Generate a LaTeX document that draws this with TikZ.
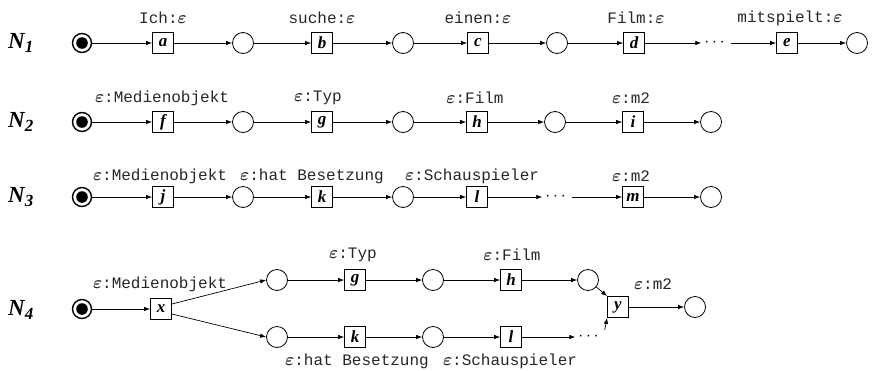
\documentclass[tikz,border=0pt]{standalone}
\usepackage{amsmath}
\usepackage{fontspec}
\setmainfont{Liberation Serif}
\setmonofont{Liberation Mono}
\usetikzlibrary{arrows.meta}
\newcommand{\eps}{\ensuremath{\boldsymbol{\varepsilon}}}
\tikzset{
  place/.style={circle,draw,line width=0.8pt,minimum size=21pt,inner sep=0pt},
  trans/.style={rectangle,draw,line width=0.8pt,minimum size=21pt,inner sep=0pt,
    font=\fontsize{17}{17}\selectfont\bfseries\itshape},
  startp/.style={circle,draw,line width=1.4pt,minimum size=19pt,inner sep=0pt,
    path picture={\fill[black] (path picture bounding box.center) circle (5.8pt);}},
  lbl/.style={font=\fontsize{16}{16}\selectfont\ttfamily,inner sep=0pt,text=black!85},
  netname/.style={font=\fontsize{23}{23}\selectfont\bfseries\itshape,anchor=west,inner sep=0pt},
  dotsn/.style={font=\fontsize{16}{16}\selectfont,inner sep=3pt},
  arr/.style={-{Latex[length=6pt,width=4.5pt]},line width=0.7pt},
  ln/.style={line width=0.7pt}
}
\begin{document}
\begin{tikzpicture}[x=1pt,y=-1pt]
\useasboundingbox (0,0) rectangle (877,370);
% ---------- N1 ----------
\node[netname] (n1) at (8,43) {N\textsubscript{\fontsize{17}{17}\selectfont 1}};
\node[startp] (s1) at (82,43) {};
\node[trans] (a) at (163,43) {a};
\node[place] (p11) at (243,43) {};
\node[trans] (b) at (322,43) {b};
\node[place] (p12) at (403,43) {};
\node[trans] (c) at (478,43) {c};
\node[place] (p13) at (557,43) {};
\node[trans] (d) at (634,43) {d};
\node[dotsn] (dots1) at (716,43) {$\cdots$};
\node[trans] (e) at (787,43) {e};
\node[place] (p14) at (857,43) {};
\node[lbl] (la) at (163,18) {Ich:\eps};
\node[lbl] (lb) at (322,18) {suche:\eps};
\node[lbl] (lc) at (478,18) {einen:\eps};
\node[lbl] (ld) at (636,18) {Film:\eps};
\node[lbl] (le) at (790,18) {mitspielt:\eps};
\draw[arr] (s1) -- (a);
\draw[arr] (a) -- (p11);
\draw[arr] (p11) -- (b);
\draw[arr] (b) -- (p12);
\draw[arr] (p12) -- (c);
\draw[arr] (c) -- (p13);
\draw[arr] (p13) -- (d);
\draw[arr] (d) -- (dots1);
\draw[arr] (dots1) -- (e);
\draw[arr] (e) -- (p14);
% ---------- N2 ----------
\node[netname] (n2) at (8,122) {N\textsubscript{\fontsize{17}{17}\selectfont 2}};
\node[startp] (s2) at (82,122) {};
\node[trans] (f) at (163,122) {f};
\node[place] (p21) at (243,122) {};
\node[trans] (g) at (322,122) {g};
\node[place] (p22) at (403,122) {};
\node[trans] (h) at (477,122) {h};
\node[place] (p23) at (555,122) {};
\node[trans] (i) at (633,122) {i};
\node[place] (p24) at (711,122) {};
\node[lbl] (lf) at (162,98) {\eps:Medienobjekt};
\node[lbl] (lg) at (318,98) {\eps:Typ};
\node[lbl] (lh) at (475,98) {\eps:Film};
\node[lbl] (li) at (631,98) {\eps:m2};
\draw[arr] (s2) -- (f);
\draw[arr] (f) -- (p21);
\draw[arr] (p21) -- (g);
\draw[arr] (g) -- (p22);
\draw[arr] (p22) -- (h);
\draw[arr] (h) -- (p23);
\draw[arr] (p23) -- (i);
\draw[arr] (i) -- (p24);
% ---------- N3 ----------
\node[netname] (n3) at (8,197) {N\textsubscript{\fontsize{17}{17}\selectfont 3}};
\node[startp] (s3) at (82,197) {};
\node[trans] (j) at (163,197) {j};
\node[place] (p31) at (243,197) {};
\node[trans] (k) at (322,197) {k};
\node[place] (p32) at (403,197) {};
\node[trans] (l) at (477,197) {l};
\node[dotsn] (dots3) at (557,197) {$\cdots$};
\node[trans] (m) at (633,197) {m};
\node[place] (p34) at (711,197) {};
\node[lbl] (lj) at (160,176) {\eps:Medienobjekt};
\node[lbl] (lk) at (312,176) {\eps:hat Besetzung};
\node[lbl] (ll) at (472,176) {\eps:Schauspieler};
\node[lbl] (lm) at (631,176) {\eps:m2};
\draw[arr] (s3) -- (j);
\draw[arr] (j) -- (p31);
\draw[arr] (p31) -- (k);
\draw[arr] (k) -- (p32);
\draw[arr] (p32) -- (l);
\draw[arr] (l) -- (dots3);
\draw[arr] (dots3) -- (m);
\draw[arr] (m) -- (p34);
% ---------- N4 ----------
\node[netname] (n4) at (8,310) {N\textsubscript{\fontsize{17}{17}\selectfont 4}};
\node[startp] (s4) at (82,309) {};
\node[trans] (x) at (161,309) {x};
\node[place] (pu1) at (277,280) {};
\node[trans] (g4) at (355,280) {g};
\node[place] (pu2) at (433,280) {};
\node[trans] (h4) at (511,280) {h};
\node[place] (pu3) at (588,280) {};
\node[place] (pl1) at (277,337) {};
\node[trans] (k4) at (355,337) {k};
\node[place] (pl2) at (433,337) {};
\node[trans] (l4) at (511,337) {l};
\node[dotsn] (dots4) at (590,337) {$\cdots$};
\node[trans] (y) at (618,307) {y};
\node[place] (p4e) at (695,307) {};
\node[lbl] (lx) at (160,284) {\eps:Medienobjekt};
\node[lbl] (lg4) at (353,255) {\eps:Typ};
\node[lbl] (lh4) at (512,255) {\eps:Film};
\node[lbl] (ly) at (653,284) {\eps:m2};
\node[lbl] (lk4) at (357,361) {\eps:hat Besetzung};
\node[lbl] (ll4) at (510,361) {\eps:Schauspieler};
\draw[arr] (s4) -- (x);
\draw[arr] (x.east) ++(0,-5) -- (pu1.west);
\draw[arr] (x.east) ++(0,5) -- (pl1.west);
\draw[arr] (pu1) -- (g4);
\draw[arr] (g4) -- (pu2);
\draw[arr] (pu2) -- (h4);
\draw[arr] (h4) -- (pu3);
\draw[arr] (pl1) -- (k4);
\draw[arr] (k4) -- (pl2);
\draw[arr] (pl2) -- (l4);
\draw[arr] (l4) -- (dots4);
\draw[arr] (pu3) -- (y.north west);
\draw[arr] (dots4.north east) -- (y.south west);
\draw[arr] (y) -- (p4e);
\end{tikzpicture}
\end{document}
